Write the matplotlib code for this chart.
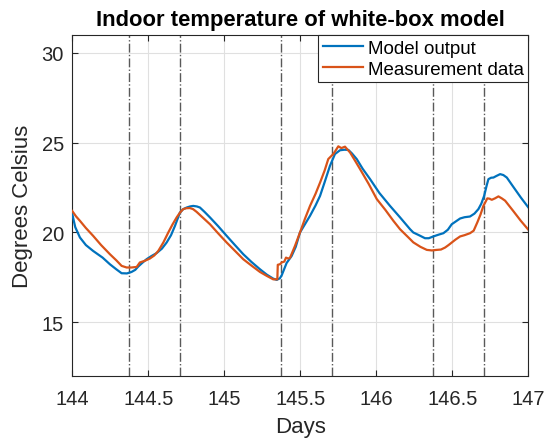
import matplotlib.pyplot as plt
import numpy as np

plt.rcParams['font.family'] = ['Liberation Sans', 'DejaVu Sans']

# model output (white-box simulation)
model_day = [144.0, 144.02, 144.051, 144.09, 144.138, 144.2, 144.248, 144.29, 144.325, 144.36, 144.39,
             144.415, 144.434, 144.46, 144.489, 144.52, 144.555, 144.59, 144.621, 144.65, 144.676,
             144.708, 144.73, 144.753, 144.775, 144.796, 144.82, 144.84, 144.87, 144.906, 144.96,
             145.016, 145.07, 145.125, 145.18, 145.235, 145.28, 145.322, 145.345, 145.366, 145.378,
             145.41, 145.443, 145.47, 145.498, 145.53, 145.564, 145.6, 145.63, 145.66, 145.695,
             145.728, 145.761, 145.79, 145.816, 145.84, 145.871, 145.91, 145.959, 146.02, 146.09,
             146.156, 146.222, 146.243, 146.28, 146.32, 146.345, 146.375, 146.41, 146.441, 146.47,
             146.496, 146.52, 146.551, 146.58, 146.616, 146.645, 146.671, 146.69, 146.709, 146.725,
             146.737, 146.755, 146.77, 146.79, 146.814, 146.835, 146.858, 146.9, 146.95, 147.0]
model_temp = [21.05, 20.3, 19.72, 19.3, 18.97, 18.6, 18.23, 17.95, 17.73, 17.72, 17.8,
              17.92, 18.1, 18.3, 18.51, 18.68, 18.85, 19.1, 19.44, 19.85, 20.37,
              21.1, 21.3, 21.39, 21.45, 21.48, 21.45, 21.39, 21.15, 20.84, 20.35,
              19.81, 19.3, 18.79, 18.35, 17.95, 17.65, 17.43, 17.36, 17.45, 17.62,
              18.3, 18.69, 19.2, 20.0, 20.45, 20.93, 21.5, 22.04, 22.8, 23.71,
              24.37, 24.58, 24.61, 24.6, 24.4, 24.09, 23.55, 22.97, 22.2, 21.48,
              20.84, 20.18, 20.0, 19.85, 19.68, 19.68, 19.78, 19.88, 19.96, 20.15,
              20.46, 20.6, 20.78, 20.85, 20.89, 21.05, 21.3, 21.6, 22.04, 22.6,
              22.97, 23.05, 23.06, 23.15, 23.25, 23.2, 23.06, 22.55, 21.95, 21.39]

# measured indoor temperature
meas_day = [144.0, 144.025, 144.051, 144.09, 144.138, 144.19, 144.248, 144.29, 144.325, 144.358,
            144.39, 144.424, 144.445, 144.48, 144.511, 144.54, 144.566, 144.6, 144.632, 144.66,
            144.687, 144.71, 144.73, 144.75, 144.774, 144.795, 144.818, 144.86, 144.906, 144.96,
            145.016, 145.07, 145.125, 145.18, 145.235, 145.28, 145.322, 145.349, 145.352, 145.366,
            145.378, 145.395, 145.406, 145.42, 145.432, 145.465, 145.498, 145.53, 145.564, 145.6,
            145.63, 145.66, 145.684, 145.717, 145.735, 145.75, 145.77, 145.794, 145.81, 145.827,
            145.86, 145.893, 145.95, 146.003, 146.06, 146.112, 146.156, 146.222, 146.243, 146.29,
            146.332, 146.365, 146.397, 146.425, 146.452, 146.475, 146.496, 146.52, 146.551, 146.58,
            146.616, 146.64, 146.664, 146.685, 146.704, 146.73, 146.745, 146.759, 146.78, 146.803,
            146.825, 146.847, 146.9, 146.95, 147.0]
meas_temp = [21.2, 20.9, 20.65, 20.25, 19.81, 19.3, 18.79, 18.45, 18.14, 18.05,
             18.05, 18.08, 18.33, 18.43, 18.55, 18.72, 18.97, 19.45, 20.0, 20.45,
             20.84, 21.12, 21.3, 21.35, 21.36, 21.3, 21.15, 20.82, 20.46, 19.95,
             19.44, 18.98, 18.51, 18.15, 17.8, 17.58, 17.39, 17.39, 18.2, 18.23,
             18.33, 18.38, 18.6, 18.55, 18.58, 19.25, 20.0, 20.75, 21.48, 22.15,
             22.78, 23.45, 24.09, 24.37, 24.6, 24.8, 24.7, 24.78, 24.62, 24.46,
             24.0, 23.53, 22.7, 21.86, 21.25, 20.65, 20.18, 19.63, 19.45, 19.2,
             19.03, 19.0, 19.03, 19.05, 19.16, 19.3, 19.44, 19.6, 19.78, 19.85,
             19.96, 20.1, 20.56, 21.0, 21.48, 21.9, 21.88, 21.82, 21.9, 22.01,
             21.9, 21.77, 21.2, 20.65, 20.15]

# occupancy boundaries (09:00 and 17:00)
boundaries = [144.375, 144.708, 145.375, 145.708, 146.375, 146.708]

dark = (0.15, 0.15, 0.15)

fig = plt.figure(figsize=(5.51, 4.39), dpi=100)
ax = fig.add_axes([0.131, 0.141, 0.828, 0.777])

for b in boundaries:
    ax.axvline(b, color=(0.35, 0.35, 0.35), ls='-.', lw=1.0, zorder=1)

ax.plot(model_day, model_temp, color='#0072BD', lw=1.6, label='Model output', zorder=3)
ax.plot(meas_day, meas_temp, color='#D95319', lw=1.6, label='Measurement data', zorder=3)

ax.set_xlim(144, 147)
ax.set_ylim(12, 31)
ax.set_xticks([144, 144.5, 145, 145.5, 146, 146.5, 147])
ax.set_xticklabels(['144', '144.5', '145', '145.5', '146', '146.5', '147'])
ax.set_yticks([15, 20, 25, 30])
ax.grid(True, color=(0.88, 0.88, 0.88), lw=0.8)
ax.set_axisbelow(True)
ax.tick_params(direction='in', top=True, right=True, labelsize=14.5, colors=dark, length=4)
ax.tick_params(axis='x', pad=9)
ax.tick_params(axis='y', pad=6)
for s in ax.spines.values():
    s.set_color(dark)
    s.set_linewidth(0.8)

ax.set_xlabel('Days', fontsize=16, color=dark, labelpad=6)
ax.set_ylabel('Degrees Celsius', fontsize=16, color=dark, labelpad=6)
ax.set_title('Indoor temperature of white-box model', fontsize=15.8, fontweight='bold', pad=7)

leg = ax.legend(loc='upper right', fontsize=13.5, fancybox=False, framealpha=1,
                edgecolor=dark, borderaxespad=0, handlelength=2.15,
                handletextpad=0.25, borderpad=0.25, labelspacing=0.2)
leg.get_frame().set_linewidth(0.8)

fig.savefig('out.png', dpi=100)
